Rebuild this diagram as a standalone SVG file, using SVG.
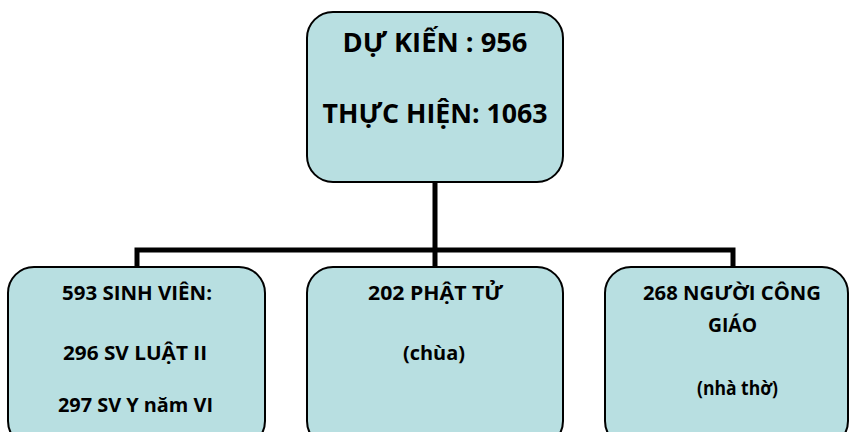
<svg xmlns="http://www.w3.org/2000/svg" width="849" height="432" viewBox="0 0 849 432">
<style>
.box{fill:#B8DFE1;stroke:#000;stroke-width:2}
.t{font-family:"Open Sans","Noto Sans",sans-serif;font-weight:bold;fill:#000;text-anchor:middle}
.big{font-size:26px}
.sm{font-size:19px}
.conn{fill:none;stroke:#000;stroke-width:5}
</style>
<rect width="849" height="432" fill="#fff"/>
<g id="connectors">
<path class="conn" d="M435 182V250M137 267V250H733V267M435 250V267"/>
</g>
<g id="top">
<rect class="box" x="307" y="12" width="256" height="170" rx="26"/>
<text class="t big" x="435" y="52" textLength="185" lengthAdjust="spacingAndGlyphs">DỰ KIẾN : 956</text>
<text class="t big" x="435" y="123" textLength="225" lengthAdjust="spacingAndGlyphs">THỰC HIỆN: 1063</text>
</g>
<g id="sv">
<rect class="box" x="8" y="267" width="257" height="180" rx="26"/>
<text class="t sm" x="137" y="300" textLength="150" lengthAdjust="spacingAndGlyphs">593 SINH VIÊN:</text>
<text class="t sm" x="135" y="360" textLength="144" lengthAdjust="spacingAndGlyphs">296 SV LUẬT II</text>
<text class="t sm" x="135.5" y="412" textLength="155" lengthAdjust="spacingAndGlyphs">297 SV Y năm VI</text>
</g>
<g id="phattu">
<rect class="box" x="307" y="267" width="256" height="180" rx="26"/>
<text class="t sm" x="435.5" y="300" textLength="135" lengthAdjust="spacingAndGlyphs">202 PHẬT TỬ</text>
<text class="t sm" x="434" y="360" textLength="62" lengthAdjust="spacingAndGlyphs">(chùa)</text>
</g>
<g id="conggiao">
<rect class="box" x="605" y="267" width="243" height="180" rx="26"/>
<text class="t sm" x="732" y="300" textLength="178" lengthAdjust="spacingAndGlyphs">268 NGƯỜI CÔNG</text>
<text class="t sm" x="732.5" y="332" textLength="49" lengthAdjust="spacingAndGlyphs">GIÁO</text>
<text class="t sm" x="737.5" y="395" textLength="81" lengthAdjust="spacingAndGlyphs">(nhà thờ)</text>
</g>
</svg>
